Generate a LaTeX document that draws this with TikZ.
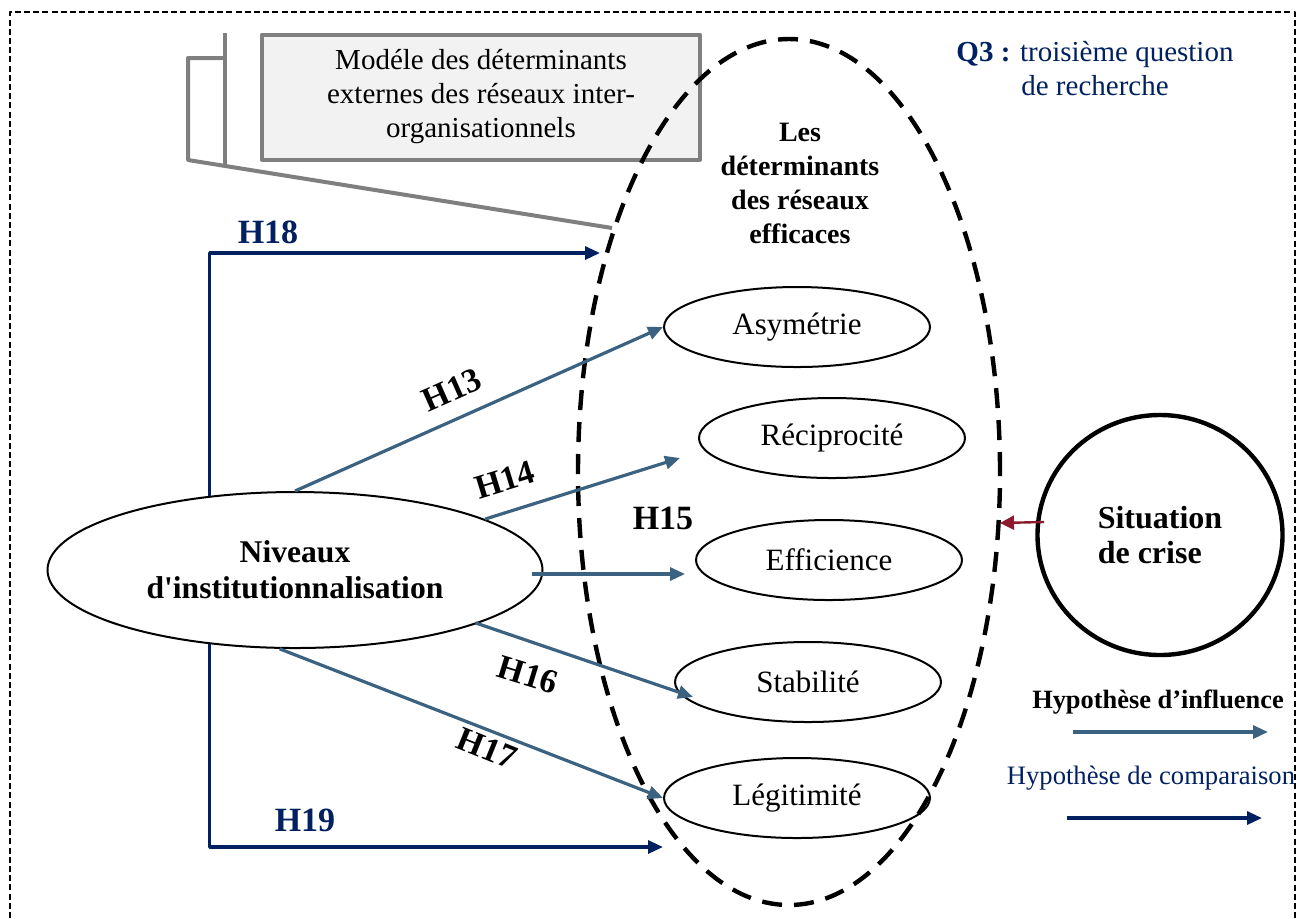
\documentclass[tikz,border=0pt]{standalone}
\usepackage{fontspec}
\setmainfont{Liberation Serif}
\usetikzlibrary{arrows.meta,shapes.geometric}
\definecolor{steel}{RGB}{59,98,128}
\definecolor{navy}{RGB}{0,32,96}
\definecolor{crisered}{RGB}{140,25,45}
\definecolor{boxgray}{RGB}{127,127,127}
\definecolor{boxfill}{RGB}{242,242,242}
\begin{document}
\begin{tikzpicture}[line cap=butt,line join=round,x=0.5pt,y=-0.5pt,>={Triangle[length=7.5pt,width=6.5pt]},
	frame/.style={line width=1pt,dash pattern=on 3pt off 1.6pt},
	bigdash/.style={ellipse,draw,line width=2.2pt,dash pattern=on 10pt off 6pt,minimum width=211pt,minimum height=433pt,inner sep=0pt},
	detell/.style={ellipse,draw,line width=1pt,minimum width=133pt,minimum height=40pt,inner sep=0pt,font=\fontsize{15.5}{18}\selectfont},
	callout/.style={boxgray,line width=2pt},
	influence/.style={->,steel,line width=1.6pt},
	comparison/.style={->,navy,line width=1.6pt},
	hlabel/.style={font=\fontsize{17}{20}\bfseries\selectfont}]
				\useasboundingbox (0,0) rectangle (1305,918);
				\draw [frame] (10,918) -- (10,12) -- (1295,12) -- (1295,918);
				\node [draw=boxgray,fill=boxfill,line width=2pt,minimum width=219pt,minimum height=62.5pt,align=center,font=\fontsize{14.5}{17}\selectfont] (model) at (481,97) {Modéle des déterminants\\externes des réseaux inter-\\organisationnels};
				\coordinate (pointer) at (612,228);
				\draw [callout] (225,33) -- (225,166);
				\draw [callout] (225,58) -- (188,58) -- (188,160) -- (pointer);
				\node [bigdash] (det) at (789,472) {};
				\node [align=center,font=\fontsize{14}{17}\bfseries\selectfont] (dettitle) at (800,183) {Les\\déterminants\\des réseaux\\efficaces};
				\node [align=center,navy,font=\fontsize{14.5}{17}\selectfont] (q3) at (1095,69) {\textbf{Q3 :} troisième question\\de recherche};
				\node [detell] (asym) at (797,327) {Asymétrie};
				\node [detell] (recip) at (832,438) {Réciprocité};
				\node [detell] (effic) at (829,560) {Efficience};
				\node [detell] (stab) at (808,682) {Stabilité};
				\node [detell] (legit) at (797,798) {Légitimité};
				\node [ellipse,draw,line width=1pt,minimum width=247.5pt,minimum height=78pt,inner sep=0pt,align=center,font=\fontsize{15.8}{18}\bfseries\selectfont] (niv) at (295,570) {Niveaux\\d\textquotesingle institutionnalisation};
				\node [ellipse,draw,line width=2.2pt,minimum width=122.5pt,minimum height=120pt,inner sep=0pt,align=left,font=\fontsize{16}{17.5}\bfseries\selectfont] (crise) at (1160,535) {Situation\\de crise};
				\coordinate (h14end) at (680,458);
				\coordinate (h15start) at (532,574);
				\coordinate (h15end) at (685,574);
				\coordinate (h16end) at (693,697);
				\coordinate (h18end) at (600,253);
				\coordinate (h19end) at (663,847);
				\coordinate (crisetip) at (1000,523);
				\draw [influence] (niv.north) -- (asym.west);
				\draw [influence] (niv.15) -- (h14end);
				\draw [influence] (h15start) -- (h15end);
				\draw [influence] ([xshift=-2pt]niv.-16) -- (h16end);
				\draw [influence] (niv.-101) -- (legit.west);
				\draw [comparison] (niv.139) |- (h18end);
				\draw [comparison] (niv.221) |- (h19end);
				\draw [->,crisered,line width=1.2pt,>={Triangle[length=7pt,width=7pt]}] ([xshift=4pt]crise.174) -- (crisetip);
				\node [hlabel,rotate=24] (h13) at (452,390) {H13};
				\node [hlabel,rotate=17] (h14) at (505,480) {H14};
				\node [hlabel] (h15) at (663,518) {H15};
				\node [hlabel,rotate=-17] (h16) at (528,675) {H16};
				\node [hlabel,rotate=-22] (h17) at (487,748) {H17};
				\node [hlabel,navy] (h18) at (268,232) {H18};
				\node [hlabel,navy] (h19) at (305,820) {H19};
				\node [font=\fontsize{13.2}{16}\bfseries\selectfont] (leginf) at (1158,702) {Hypothèse d’influence};
				\coordinate (inf1) at (1073,732);
				\coordinate (inf2) at (1268,732);
				\draw [influence] (inf1) -- (inf2);
				\node [navy,font=\fontsize{13.3}{16}\selectfont] (legcomp) at (1151,778) {Hypothèse de comparaison};
				\coordinate (comp1) at (1067,818);
				\coordinate (comp2) at (1262,818);
				\draw [comparison] (comp1) -- (comp2);
			\end{tikzpicture}
\end{document}
